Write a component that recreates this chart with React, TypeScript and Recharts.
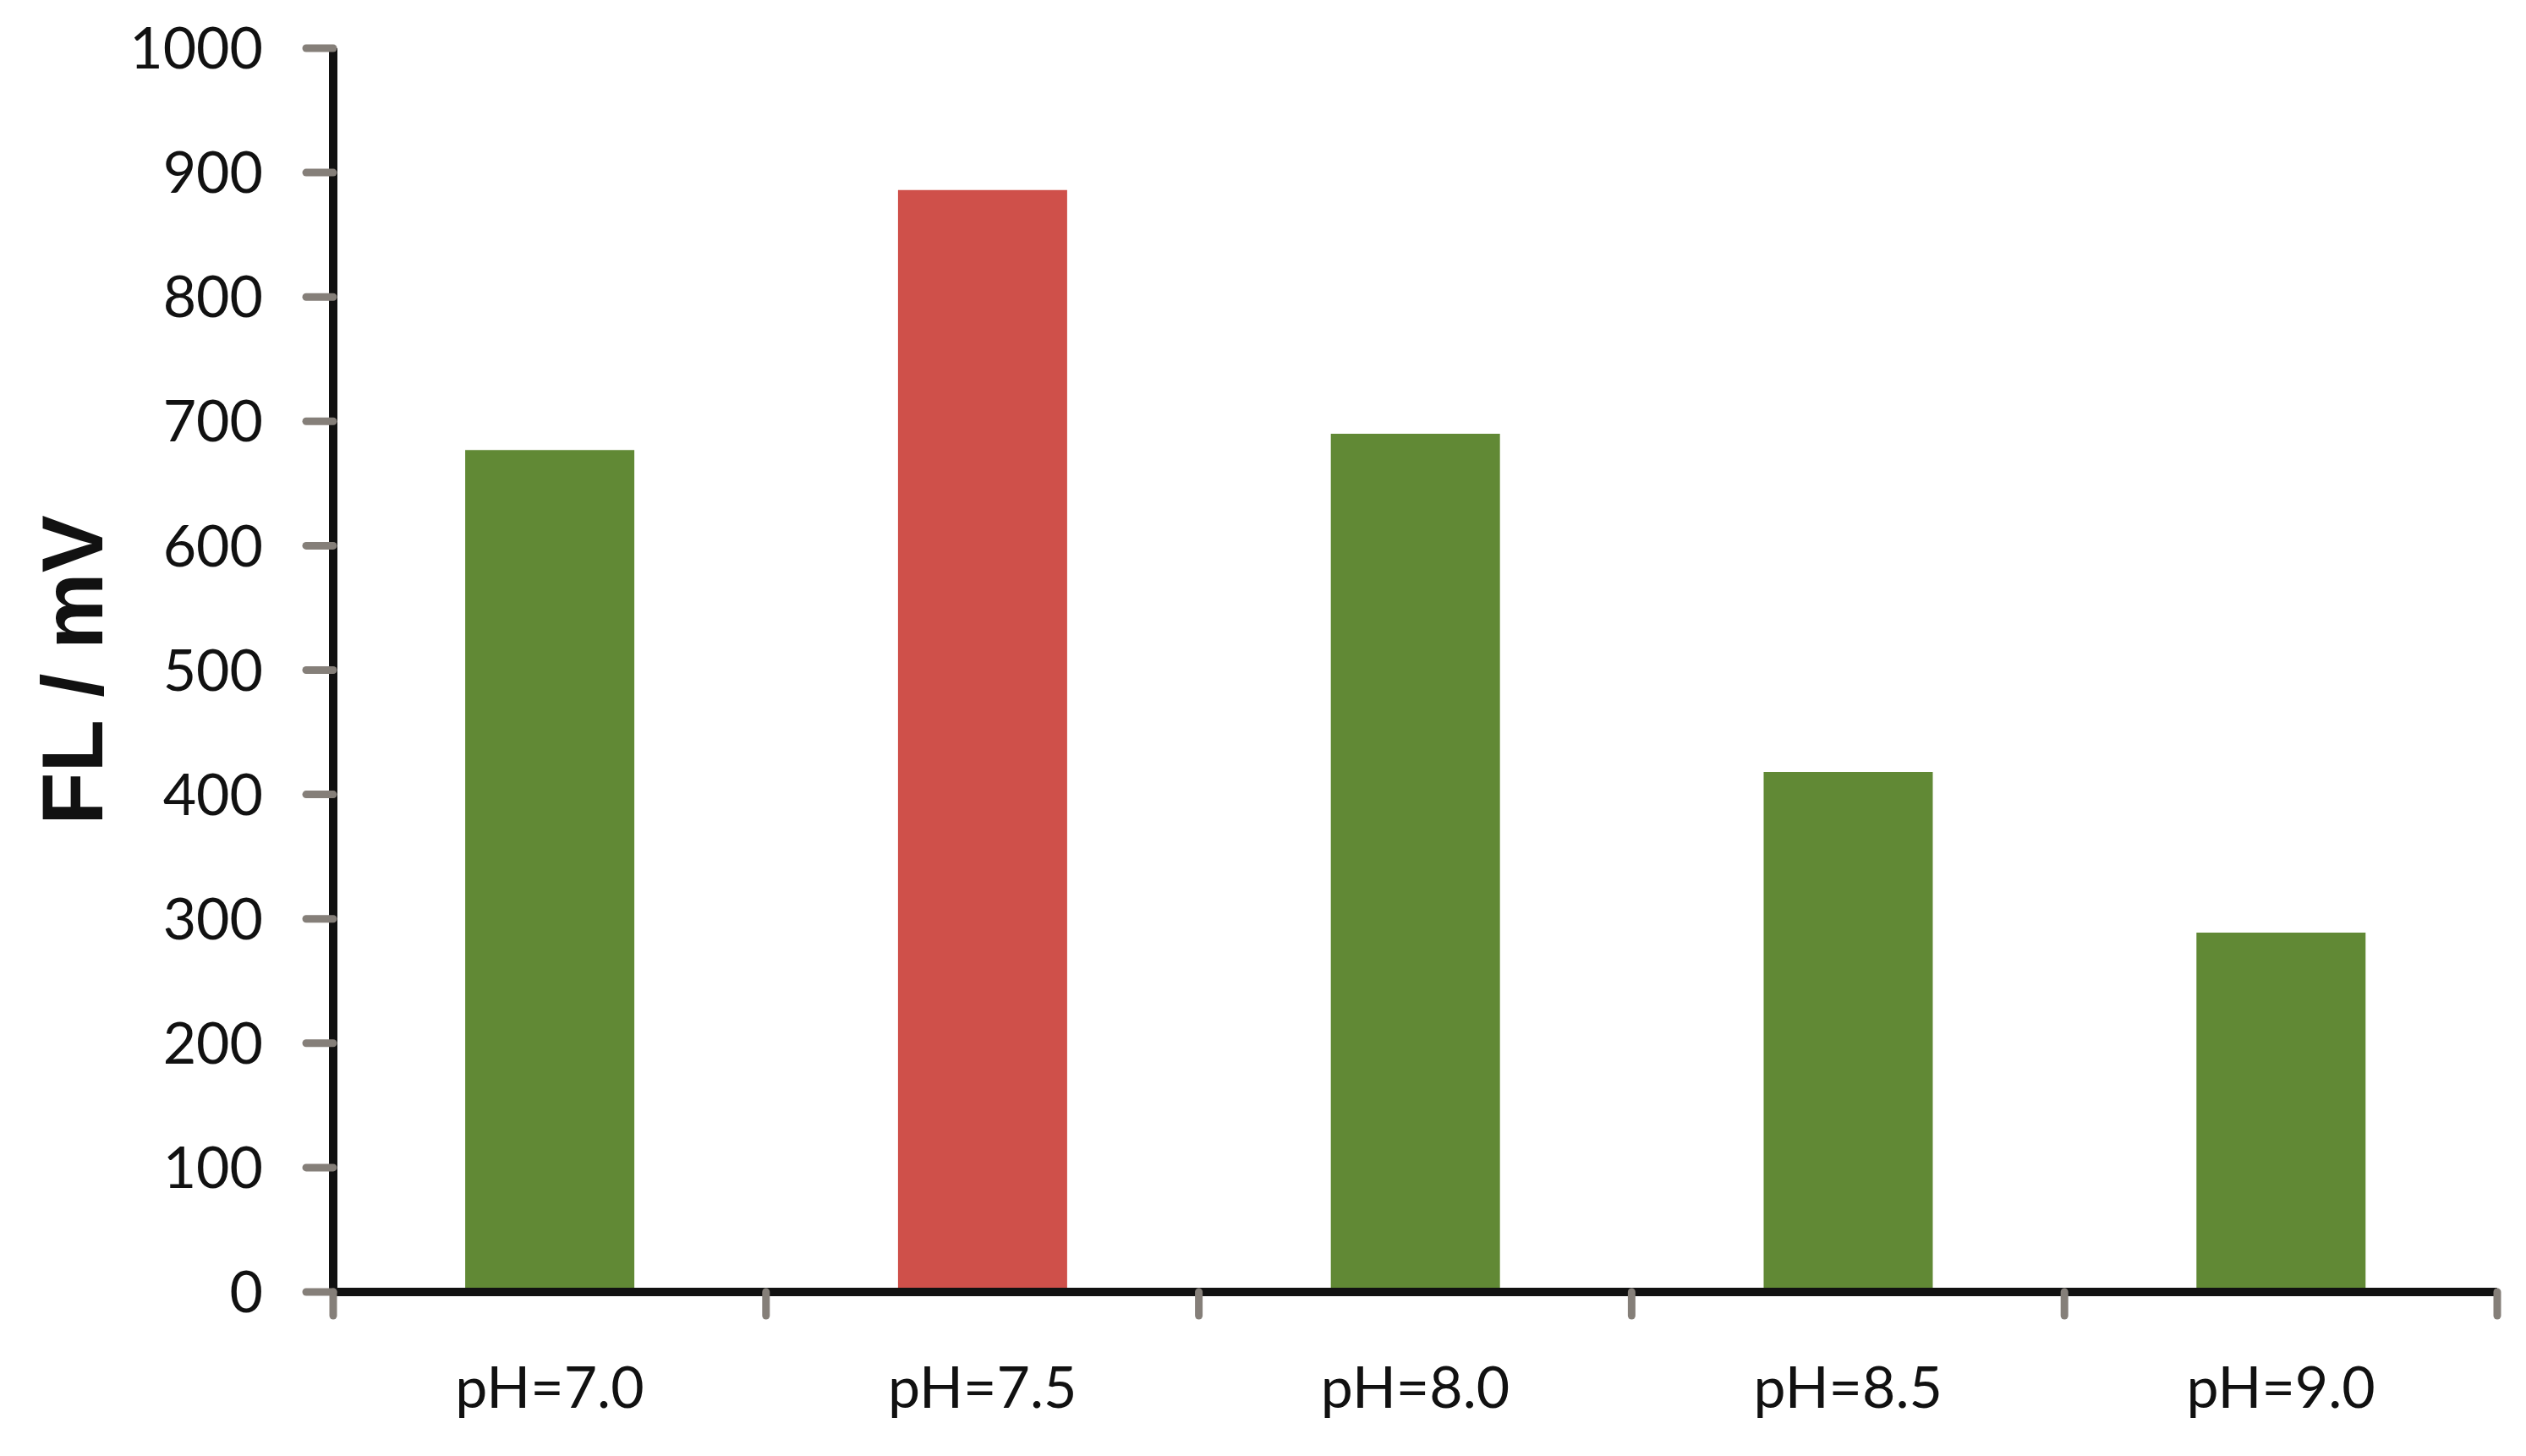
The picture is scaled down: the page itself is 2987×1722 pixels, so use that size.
import { BarChart, Bar, XAxis, YAxis, Cell } from 'recharts';

const categories = ['pH=7.0', 'pH=7.5', 'pH=8.0', 'pH=8.5', 'pH=9.0'];
const flValues = [677, 886, 690, 418, 289];
const barColors = ['#618935', '#CF504A', '#618935', '#618935', '#618935'];
const yTicks = [0, 100, 200, 300, 400, 500, 600, 700, 800, 900, 1000];

const data = categories.map((ph, i) => ({ ph, fl: flValues[i] }));

const TICK_GRAY = '#857f79';
const AXIS_BLACK = '#111111';

// x ticks sit between categories (Excel style), labels stay centred
function PhTick(props: any) {
  const { x, y, payload, index, width, visibleTicksCount } = props;
  const count = visibleTicksCount || categories.length;
  const half = (typeof width === 'number' ? width : 2559) / count / 2;
  const mark = (tx: number) => (
    <line x1={tx} x2={tx} y1={y} y2={y + 28} stroke={TICK_GRAY} strokeWidth={9} strokeLinecap="round" />
  );
  return (
    <g>
      {mark(x - half)}
      {index === count - 1 && mark(x + half)}
      <text x={x} y={y + 110} textAnchor="middle" dominantBaseline="central" fontSize={68} fontFamily="Lato" fill="#111">
        {payload.value}
      </text>
    </g>
  );
}

export default function App() {
  return (
    <div style={{ position: 'absolute', left: 0, top: 0, background: '#fff' }}>
      <BarChart
        width={2987}
        height={1722}
        data={data}
        margin={{ top: 57, right: 34, left: 0, bottom: 44 }}
        barCategoryGap="30.5%"
        style={{ fontFamily: 'Lato' }}
      >
        <XAxis
          dataKey="ph"
          height={150}
          interval={0}
          tickLine={false}
          tickSize={0}
          tickMargin={0}
          axisLine={{ stroke: AXIS_BLACK, strokeWidth: 10 }}
          tick={<PhTick />}
        />
        <YAxis
          width={394}
          domain={[0, 1000]}
          ticks={yTicks}
          interval={0}
          tickSize={32}
          tickMargin={51}
          axisLine={{ stroke: AXIS_BLACK, strokeWidth: 10 }}
          tickLine={{ stroke: TICK_GRAY, strokeWidth: 9, strokeLinecap: 'round' }}
          tick={{ fontSize: 68, fill: '#111', fontFamily: 'Lato' }}
          label={{
            content: ({ viewBox }: any) => (
              <text
                x={viewBox.x + 86}
                y={viewBox.y + viewBox.height / 2}
                transform={`rotate(-90, ${viewBox.x + 86}, ${viewBox.y + viewBox.height / 2})`}
                textAnchor="middle"
                dominantBaseline="central"
                fontSize={102}
                fontWeight="bold"
                fontFamily="Liberation Sans"
                fill="#111"
              >
                FL / mV
              </text>
            ),
          }}
        />
        <Bar dataKey="fl" isAnimationActive={false}>
          {data.map((d, i) => (
            <Cell key={d.ph} fill={barColors[i]} />
          ))}
        </Bar>
      </BarChart>
    </div>
  );
}
